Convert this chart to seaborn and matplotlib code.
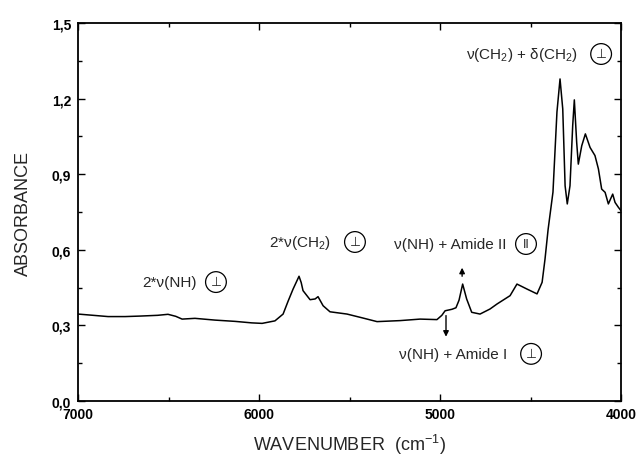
import matplotlib
matplotlib.use("Agg")
import matplotlib.pyplot as plt
import matplotlib.ticker as mticker
import seaborn as sns
import pandas as pd

# ---- data ----
wavenumber = [7000, 6900, 6834, 6740, 6657, 6560, 6503, 6460, 6425, 6354,
              6243, 6133, 6040, 5983, 5912, 5867, 5840, 5812, 5790, 5779,
              5767, 5757, 5718, 5690, 5674, 5646, 5608, 5514, 5430, 5348,
              5221, 5110, 5017, 4990, 4972, 4934, 4912, 4895, 4875, 4853,
              4825, 4779, 4724, 4685, 4613, 4575, 4519, 4464, 4436, 4420,
              4403, 4376, 4354, 4337, 4322, 4309, 4297, 4282, 4267, 4258,
              4245, 4236, 4217, 4197, 4171, 4144, 4125, 4107, 4088, 4070,
              4046, 4033, 4015, 4000]
absorbance = [0.345, 0.339, 0.335, 0.335, 0.337, 0.340, 0.344, 0.336, 0.325, 0.328,
              0.321, 0.316, 0.310, 0.308, 0.318, 0.345, 0.395, 0.444, 0.478, 0.495,
              0.470, 0.438, 0.402, 0.405, 0.414, 0.378, 0.354, 0.345, 0.330, 0.315,
              0.319, 0.325, 0.323, 0.340, 0.358, 0.364, 0.370, 0.400, 0.464, 0.405,
              0.352, 0.345, 0.365, 0.385, 0.418, 0.464, 0.444, 0.425, 0.471, 0.563,
              0.680, 0.829, 1.147, 1.278, 1.159, 0.854, 0.782, 0.854, 1.093, 1.195,
              1.026, 0.940, 1.013, 1.060, 1.006, 0.974, 0.921, 0.841, 0.828, 0.782,
              0.821, 0.788, 0.769, 0.755]

x_ticks = [7000, 6000, 5000, 4000]
y_ticks = [0.0, 0.3, 0.6, 0.9, 1.2, 1.5]

labels = ["2*ν(NH)", "2*ν(CH$_2$)", "ν(NH) + Amide II", "ν(NH) + Amide I",
          "ν(CH$_2$) + δ(CH$_2$)"]
label_x = [6497, 5775, 4945, 4928, 4547]
label_y = [0.472, 0.631, 0.623, 0.187, 1.377]
circle_sym = ["⊥", "⊥", "II", "⊥", "⊥"]
circle_x = [6238, 5470, 4525, 4497, 4110]

df = pd.DataFrame({"wavenumber": wavenumber, "absorbance": absorbance})

sns.set_style("ticks")
fam = ["Liberation Sans", "DejaVu Sans"]
plt.rcParams["font.family"] = fam
plt.rcParams["mathtext.fontset"] = "custom"
plt.rcParams["mathtext.rm"] = "Liberation Sans"
plt.rcParams["mathtext.it"] = "Liberation Sans"

fig = plt.figure(figsize=(6.38, 4.6), dpi=100)
ax = fig.add_axes([0.1223, 0.1261, 0.8511, 0.8217])

sns.lineplot(data=df, x="wavenumber", y="absorbance", ax=ax, color="black",
             linewidth=1.1, sort=False)

ax.set_xlim(7000, 4000)
ax.set_ylim(0.0, 1.5)
ax.set_xticks(x_ticks)
ax.set_yticks(y_ticks)
ax.xaxis.set_minor_locator(mticker.MultipleLocator(500))
ax.yaxis.set_minor_locator(mticker.MultipleLocator(0.15))
ax.yaxis.set_major_formatter(mticker.FuncFormatter(lambda v, p: f"{v:.1f}".replace(".", ",")))
ax.tick_params(which="both", direction="in", top=True, right=True, width=1.0, colors="black")
ax.tick_params(which="major", length=5, labelsize=10)
ax.tick_params(axis="x", which="major", pad=4)
ax.tick_params(axis="y", which="major", pad=5)
ax.tick_params(which="minor", length=3)
for lab in ax.get_xticklabels() + ax.get_yticklabels():
    lab.set_fontweight("bold")
for s in ax.spines.values():
    s.set_linewidth(1.3)
    s.set_color("black")

ax.set_xlabel("WAVENUMBER  (cm$^{-1}$)", fontsize=13, labelpad=8)
ax.set_ylabel("ABSORBANCE", fontsize=13, labelpad=14)

for t, xx, yy, sym, cx in zip(labels, label_x, label_y, circle_sym, circle_x):
    ax.text(xx, yy, t, ha="center", va="center", fontsize=11)
    ax.text(cx, yy, sym, ha="center", va="center", fontsize=9,
            bbox=dict(boxstyle="circle,pad=0.35", fc="white", ec="black", lw=0.9))

# arrows
ax.annotate("", xy=(4878, 0.540), xytext=(4878, 0.484),
            arrowprops=dict(arrowstyle="-|>", color="black", lw=1.0, mutation_scale=8))
ax.annotate("", xy=(4967, 0.244), xytext=(4967, 0.350),
            arrowprops=dict(arrowstyle="-|>", color="black", lw=1.0, mutation_scale=8))

fig.savefig("out.png", dpi=100)
